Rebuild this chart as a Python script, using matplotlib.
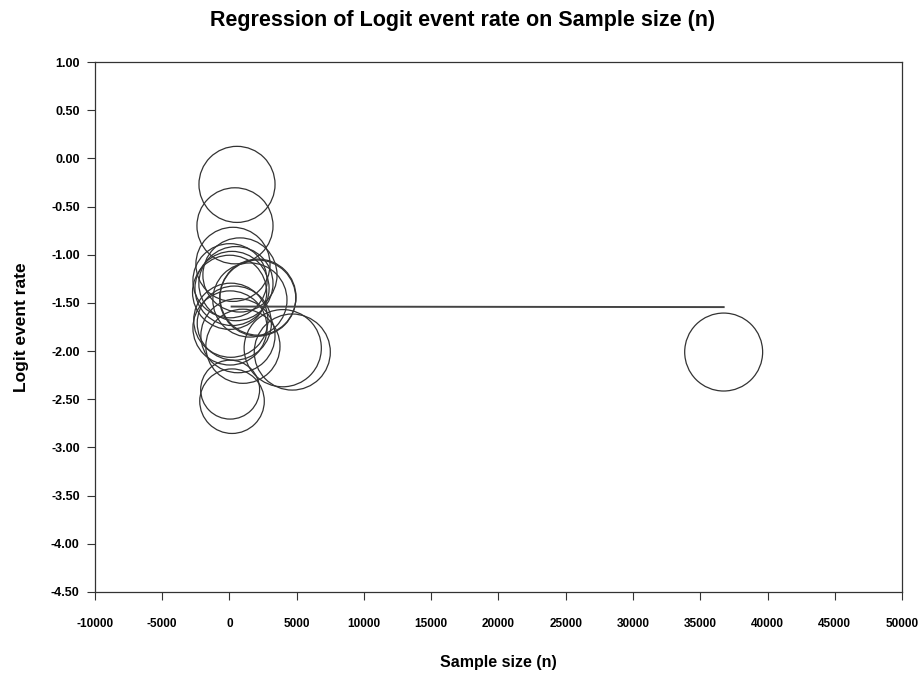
import matplotlib
matplotlib.use("Agg")
import matplotlib.pyplot as plt
import numpy as np

# Study data: sample size, logit event rate, relative weight (bubble area)
sample_size = [560, 410, 260, 40, 190, 480, 10, 780, 2120, 2100, 1520,
               100, 360, 40, 1000, 630, 3960, 4670, 50, 190, 36740]
logit_rate = [-0.27, -0.70, -1.10, -1.27, -1.35, -1.30, -1.39, -1.21, -1.44,
              -1.45, -1.47, -1.68, -1.71, -1.76, -1.95, -1.84, -1.97, -2.01,
              -2.40, -2.52, -2.01]
weight = [1.0, 1.0, 0.95, 0.95, 0.95, 0.95, 0.95, 0.95, 1.0, 1.0, 0.95,
          0.95, 0.95, 0.95, 0.95, 0.95, 1.03, 1.0, 0.6, 0.72, 1.05]

# Fitted regression line
intercept = -1.538
slope = -1.5e-7

x_ticks = np.arange(-10000, 50001, 5000)
y_ticks = np.arange(-4.5, 1.01, 0.5)


def main():
    plt.rcParams['font.family'] = ['Liberation Sans', 'DejaVu Sans']
    fig = plt.figure(figsize=(9.21, 6.74), dpi=100)
    ax = fig.add_axes([0.1031, 0.1217, 0.8763, 0.7863])

    # Bubbles
    sizes = np.array(weight) * 3000
    ax.scatter(sample_size, logit_rate, s=sizes, facecolors='none',
               edgecolors='#333333', linewidths=0.9, zorder=2)

    # Regression line over the range of sample sizes
    xl = np.array([min(sample_size) + 150, max(sample_size)])
    ax.plot(xl, intercept + slope * xl, color='#444444', lw=1.4, zorder=3)

    ax.set_xlim(-10000, 50000)
    ax.set_ylim(-4.5, 1.0)
    ax.set_xticks(x_ticks)
    ax.set_yticks(y_ticks)
    ax.set_xticklabels([f"{v}" for v in x_ticks], fontsize=8.5, fontweight='bold')
    ax.set_yticklabels([f"{v:.2f}" for v in y_ticks], fontsize=9, fontweight='bold')
    ax.tick_params(direction='out', length=6, width=0.8, color='#333333')
    ax.tick_params(axis='x', pad=13)
    ax.tick_params(axis='y', pad=5)
    for sp in ax.spines.values():
        sp.set_linewidth(0.9)
        sp.set_color('#333333')

    ax.set_xlabel("Sample size (n)", fontsize=11.5, fontweight='bold', labelpad=18)
    ax.set_ylabel("Logit event rate", fontsize=12.5, fontweight='bold', labelpad=16)
    fig.suptitle("Regression of Logit event rate on Sample size (n)",
                 fontsize=15.5, fontweight='bold', x=0.502, y=0.985)

    fig.savefig("out.png", dpi=100)


if __name__ == '__main__':
    main()
